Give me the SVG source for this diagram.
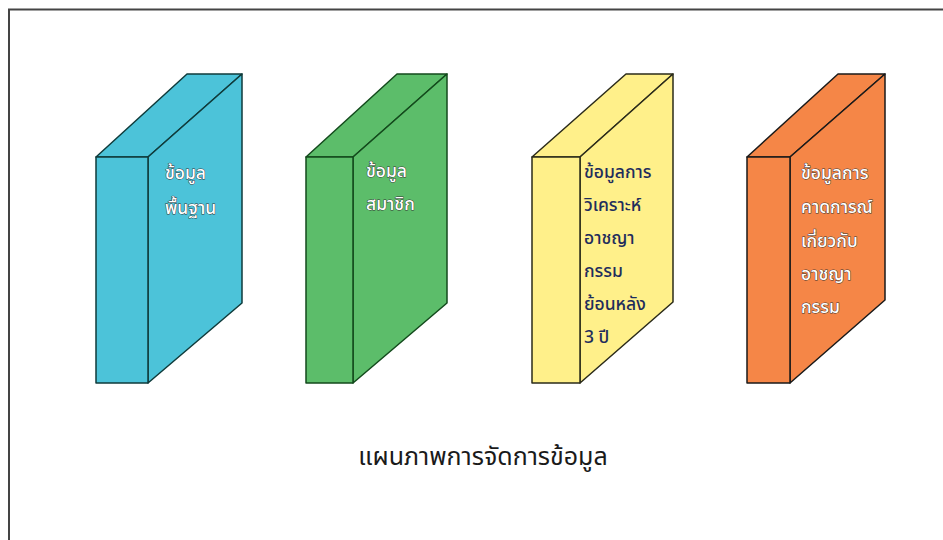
<svg xmlns="http://www.w3.org/2000/svg" width="943" height="540" viewBox="0 0 943 540">
<style>
.face{stroke-width:1.5;stroke-linejoin:round}
.lbl{font-family:"Tahoma","Noto Sans Thai","Noto Sans","DejaVu Sans",sans-serif;font-size:17.5px;font-weight:500}
.light{fill:#ffffff;stroke:#333;stroke-width:0.9;paint-order:stroke}
.dark{fill:#1f2d5c}
.cap{font-family:"Tahoma","Noto Sans Thai","Noto Sans","DejaVu Sans",sans-serif;font-size:25px;fill:#1a1a1a}
</style>
<rect x="0" y="0" width="943" height="540" fill="#ffffff"/>
<path d="M9 540 V9.5 H943" fill="none" stroke="#444" stroke-width="2"/>
<g id="book-basic">
<polygon class="face" points="96,157 187,74 242,74 148,157" fill="#4cc3d9" stroke="#0f3b3b"/>
<polygon class="face" points="148,157 242,74 242,303 148,383" fill="#4cc3d9" stroke="#0f3b3b"/>
<rect class="face" x="96" y="157" width="52" height="226" fill="#4cc3d9" stroke="#0f3b3b"/>
<text class="lbl light"><tspan x="165" y="179">ข้อมูล</tspan><tspan x="165" y="214">พื้นฐาน</tspan></text>
</g>
<g id="book-member">
<polygon class="face" points="306,157 397,74 447,74 353,157" fill="#5cbd6a" stroke="#134a1c"/>
<polygon class="face" points="353,157 447,74 447,303 353,383" fill="#5cbd6a" stroke="#134a1c"/>
<rect class="face" x="306" y="157" width="47" height="226" fill="#5cbd6a" stroke="#134a1c"/>
<text class="lbl light"><tspan x="366" y="177">ข้อมูล</tspan><tspan x="366" y="210">สมาชิก</tspan></text>
</g>
<g id="book-analysis">
<polygon class="face" points="532,157 626,74 673,74 580,157" fill="#fff08a" stroke="#2b2b1a"/>
<polygon class="face" points="580,157 673,74 673,302 580,383" fill="#fff08a" stroke="#2b2b1a"/>
<rect class="face" x="532" y="157" width="48" height="226" fill="#fff08a" stroke="#2b2b1a"/>
<text class="lbl dark"><tspan x="584" y="178">ข้อมูลการ</tspan><tspan x="584" y="211">วิเคราะห์</tspan><tspan x="584" y="244">อาชญา</tspan><tspan x="584" y="277">กรรม</tspan><tspan x="584" y="310">ย้อนหลัง</tspan><tspan x="584" y="343">3 ปี</tspan></text>
</g>
<g id="book-forecast">
<polygon class="face" points="747,157 838,74 885,74 790,157" fill="#f58647" stroke="#1a1a1a"/>
<polygon class="face" points="790,157 885,74 885,300 790,383" fill="#f58647" stroke="#1a1a1a"/>
<rect class="face" x="747" y="157" width="43" height="226" fill="#f58647" stroke="#1a1a1a"/>
<text class="lbl light"><tspan x="801" y="179">ข้อมูลการ</tspan><tspan x="801" y="213">คาดการณ์</tspan><tspan x="801" y="247">เกี่ยวกับ</tspan><tspan x="801" y="280">อาชญา</tspan><tspan x="801" y="313">กรรม</tspan></text>
</g>
<g id="connectors"></g>
<text class="cap" x="483" y="465" text-anchor="middle">แผนภาพการจัดการข้อมูล</text>
</svg>
